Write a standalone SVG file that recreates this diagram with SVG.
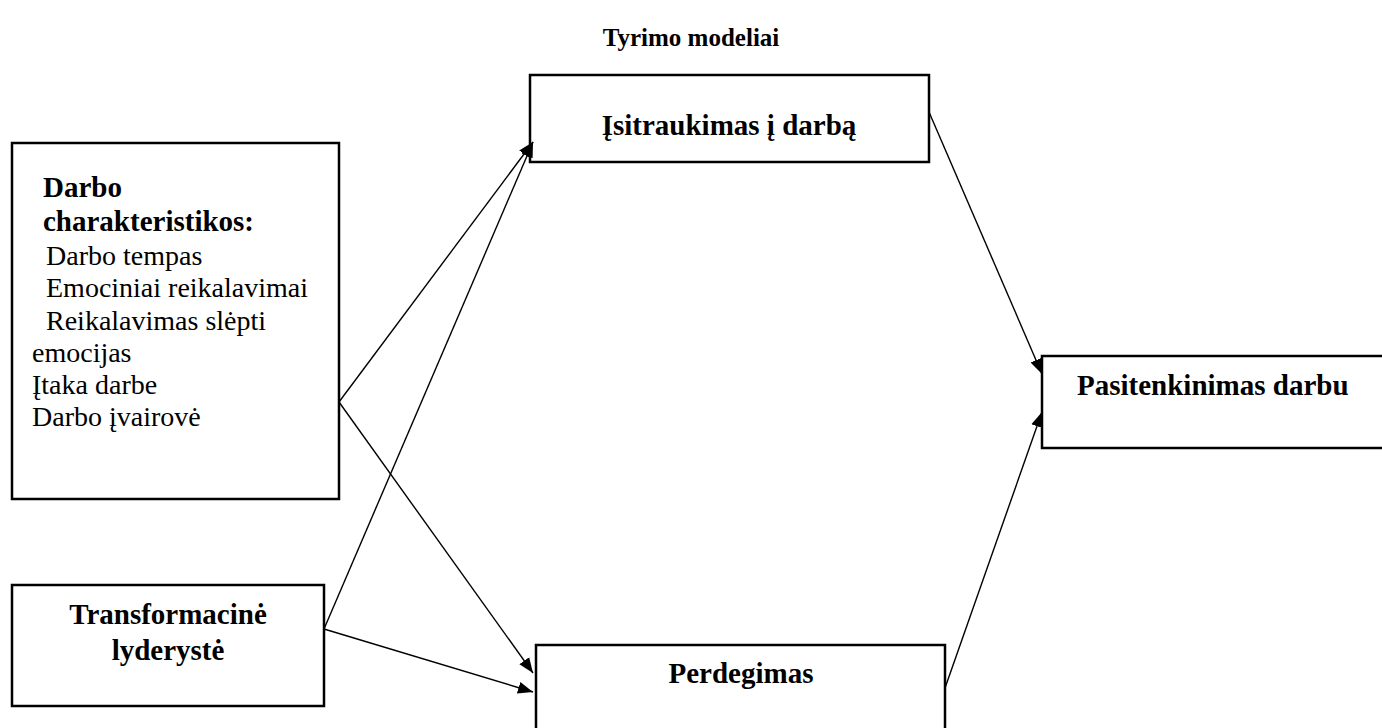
<svg xmlns="http://www.w3.org/2000/svg" width="1382" height="728" viewBox="0 0 1382 728">
<style>
.box{fill:#fff;stroke:#000;stroke-width:2.5}
.b{font-family:"Liberation Serif","Times New Roman",serif;font-weight:bold;font-size:29px;fill:#000}
.r{font-family:"Liberation Serif","Times New Roman",serif;font-size:28px;fill:#000}
.t{font-family:"Liberation Serif","Times New Roman",serif;font-weight:bold;font-size:25px;fill:#000}
.c{stroke:#000;stroke-width:1.4;fill:none;marker-end:url(#ah)}
</style>
<defs>
<marker id="ah" markerUnits="userSpaceOnUse" markerWidth="16" markerHeight="14" refX="15" refY="6" orient="auto" viewBox="0 0 16 12">
<path d="M0,0 L15,6 L0,12 Z" fill="#000"/>
</marker>
</defs>
<rect width="1382" height="728" fill="#fff"/>
<text class="t" x="691" y="46" text-anchor="middle">Tyrimo modeliai</text>
<g id="darbo">
<rect class="box" x="12" y="143" width="327" height="356"/>
<text class="b" x="43" y="197">Darbo</text>
<text class="b" x="43" y="231">charakteristikos:</text>
<text class="r" x="46" y="265">Darbo tempas</text>
<text class="r" x="46" y="297">Emociniai reikalavimai</text>
<text class="r" x="46" y="330">Reikalavimas slėpti</text>
<text class="r" x="32" y="362">emocijas</text>
<text class="r" x="32" y="394">Įtaka darbe</text>
<text class="r" x="32" y="426">Darbo įvairovė</text>
</g>
<g id="transf">
<rect class="box" x="12" y="585" width="312" height="121"/>
<text class="b" x="168" y="624" text-anchor="middle">Transformacinė</text>
<text class="b" x="168" y="660" text-anchor="middle">lyderystė</text>
</g>
<g id="isitraukimas">
<rect class="box" x="530" y="75" width="399" height="87"/>
<text class="b" x="729" y="135" text-anchor="middle">Įsitraukimas į darbą</text>
</g>
<g id="perdegimas">
<rect class="box" x="536" y="645" width="409" height="100"/>
<text class="b" x="741" y="683" text-anchor="middle">Perdegimas</text>
</g>
<g id="pasitenkinimas">
<rect class="box" x="1042" y="356" width="360" height="92"/>
<text class="b" x="1077" y="395">Pasitenkinimas darbu</text>
</g>
<g id="connectors">
<line class="c" x1="339" y1="402" x2="533" y2="142"/>
<line class="c" x1="339" y1="402" x2="533" y2="673"/>
<line class="c" x1="324" y1="629" x2="533" y2="142"/>
<line class="c" x1="324" y1="629" x2="533" y2="692"/>
<line class="c" x1="929" y1="112" x2="1042" y2="374"/>
<line class="c" x1="945" y1="688" x2="1042" y2="412"/>
</g>
</svg>
